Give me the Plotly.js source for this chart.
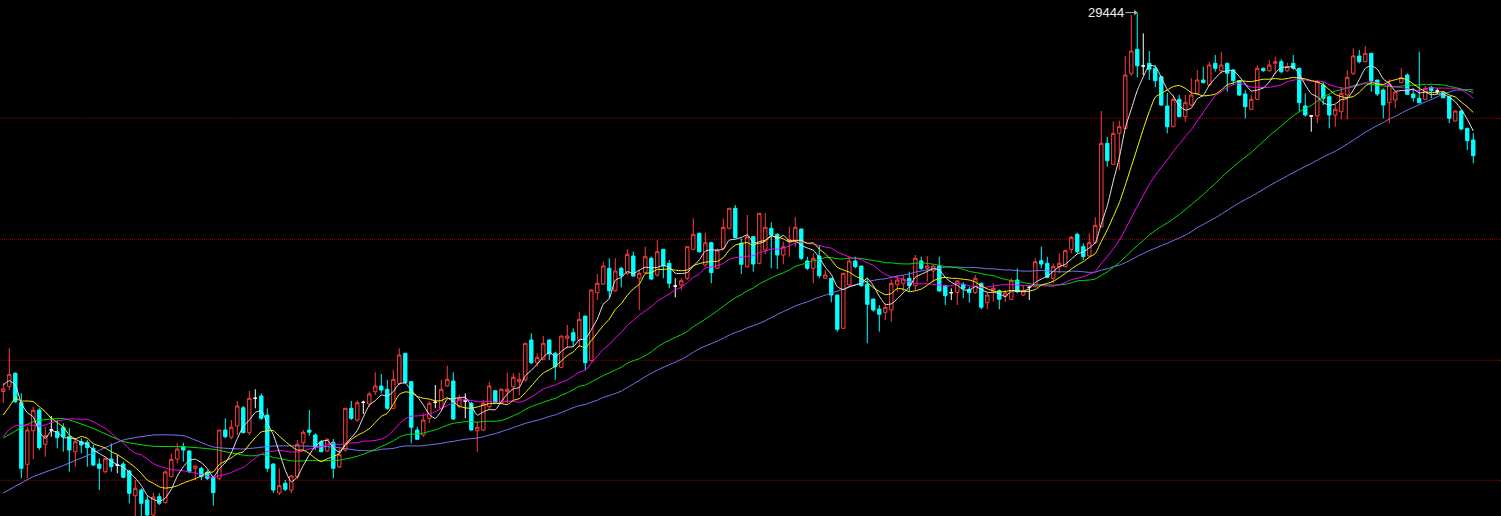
<!DOCTYPE html>
<html>
<head>
<meta charset="utf-8">
<script src="https://cdn.plot.ly/plotly-3.0.1.min.js"></script>
<style>
  html, body { margin: 0; padding: 0; background: #000; overflow: hidden; }
  #chart { width: 1501px; height: 516px; }
</style>
</head>
<body>
<div id="chart"></div>
<script>
// ---- OHLC data (one candle per trading day, index 0..245) ----
const openP = [
25655,25703,25837,25543,24927,25263,25470,25127,25270,25253,
25297,25203,25053,25153,25147,25087,24930,24853,24980,24920,
24930,24860,24613,24670,24570,24420,24603,24543,24803,24980,
25103,25060,24887,24887,24847,24797,24787,25270,25197,25310,
25493,25243,25587,25610,25420,24930,24640,24737,24670,24803,
25143,25270,25220,25153,25060,25147,24903,25070,25487,25370,
25547,25530,25653,25710,25677,25487,25737,26037,25753,25270,
25220,25387,25547,25487,25710,25760,25503,25560,25537,25263,
25270,25503,25663,25537,25653,25703,25753,25770,26170,25943,
25977,26170,26037,25897,26187,26243,26170,26410,25963,26643,
26730,26887,26663,26887,26837,27010,26787,26843,26987,26820,
27077,26937,26710,26720,26787,27077,27237,26920,27143,26887,
27087,27287,27487,27137,26903,27203,26937,27070,27287,27227,
27020,27153,27170,27280,26960,26887,27010,26787,26787,26620,
26287,26720,26960,26910,26727,26580,26480,26447,26470,26727,
26737,26787,26713,26960,26887,26860,26910,26713,26643,26647,
26727,26677,26643,26737,26543,26670,26663,26610,26577,26770,
26620,26697,26703,26963,26937,26787,26903,26903,27077,27227,
27103,27010,27143,27303,28137,27927,28237,28287,28837,29077,
28910,28937,28887,28803,28510,28303,28577,28403,28520,28637,
28770,28720,28937,28863,28937,28870,28763,28630,28477,28577,
28887,28863,28937,28953,28863,28937,28887,28510,28410,28410,
28720,28603,28420,28453,28620,28837,29010,28953,29037,28770,
28670,28543,28570,28743,28820,28630,28587,28577,28697,28660,
28643,28603,28360,28460,28287,28170];

const highP = [
25740,26087,25847,25637,25303,25503,25487,25303,25410,25370,
25337,25287,25187,25187,25170,25120,24987,25003,25137,25020,
24953,24870,24770,24687,24620,24643,24637,24870,25037,25137,
25143,25070,24910,24903,24870,24803,25270,25387,25370,25560,
25510,25663,25677,25637,25487,24937,24887,24770,24820,25170,
25270,25470,25237,25170,25187,25180,25087,25487,25560,25563,
25563,25653,25847,25830,25770,25870,26087,26037,25760,25303,
25437,25560,25720,25770,25913,25847,25620,25637,25553,25353,
25570,25753,25670,25687,25843,25837,25843,26137,26237,26037,
26210,26177,26053,26210,26320,26287,26453,26410,26670,26830,
26953,26987,26987,26903,27077,27053,26870,27103,27003,27170,
27077,26970,26787,26787,27103,27387,27243,27243,27153,27087,
27387,27487,27520,27187,27420,27210,27437,27437,27347,27237,
27153,27303,27397,27280,27003,27037,27120,26870,26787,26620,
26837,27003,27003,26910,26787,26580,26520,26537,26777,26820,
26820,26853,27020,27003,27010,26920,27003,26720,26687,26770,
26747,26703,26820,26743,26653,26737,26677,26670,26787,26887,
26720,26710,26987,27103,27003,26937,27037,27077,27210,27243,
27137,27237,27397,28460,28203,28353,28363,29010,29420,29444,
29237,29060,28920,28810,28643,28620,28620,28620,28787,28870,
28903,28953,29020,29053,28943,28877,28770,28670,28620,28920,
28893,28970,29003,28977,28943,29020,28893,28637,28420,28770,
28753,28620,28520,28703,28870,29087,29070,29110,29037,28770,
28687,28777,28653,28887,28837,28687,29053,28710,28710,28687,
28653,28610,28470,28470,28293,28237];

const lowP = [
25540,25670,25540,24787,24787,24980,25070,25003,25203,25087,
25053,24853,24903,25037,24903,24910,24670,24837,24853,24837,
24787,24537,24410,24410,24400,24400,24520,24537,24797,24937,
24953,24837,24770,24770,24770,24513,24770,25187,25177,25220,
25237,25220,25487,25370,24853,24640,24620,24660,24640,24777,
25063,25213,25070,25047,25053,24787,24887,25053,25370,25353,
25430,25503,25620,25637,25470,25480,25720,25737,25137,25170,
25203,25337,25487,25470,25703,25370,25487,25387,25263,25053,
25263,25470,25537,25530,25537,25570,25620,25753,25930,25903,
25970,25970,25770,25887,26087,26103,26103,25870,25953,26570,
26720,26587,26653,26697,26820,26803,26470,26837,26770,26803,
26787,26687,26597,26670,26770,27070,27043,26903,26737,26880,
27070,27277,27187,26830,26893,26853,26927,27027,26887,26880,
26927,27003,27103,26970,26870,26737,26787,26787,26547,26253,
26280,26703,26887,26703,26137,26453,26253,26370,26353,26653,
26653,26653,26670,26870,26753,26747,26653,26520,26570,26520,
26587,26543,26630,26477,26477,26553,26477,26550,26570,26637,
26610,26570,26697,26887,26787,26737,26837,26897,27037,27037,
26970,27003,27130,27297,27903,27920,27870,28277,28810,28797,
28820,28770,28697,28510,28237,28297,28397,28353,28503,28620,
28737,28710,28853,28837,28653,28720,28610,28387,28470,28570,
28853,28853,28837,28837,28853,28870,28453,28403,28253,28337,
28520,28287,28303,28377,28377,28820,28937,28947,28653,28610,
28387,28337,28487,28737,28620,28553,28537,28570,28587,28630,
28587,28337,28353,28270,28070,27937];

const closeP = [
25680,25827,25553,24887,25270,25467,25093,25213,25270,25193,
25203,25070,25153,25120,25093,24920,24887,24983,24903,24920,
24797,24637,24687,24537,24420,24600,24537,24850,24977,25080,
25070,24853,24910,24803,24787,24643,25270,25203,25297,25510,
25243,25587,25587,25387,24887,24670,24713,24677,24810,25127,
25247,25247,25103,25053,25177,24887,25027,25487,25387,25543,
25547,25630,25710,25670,25487,25777,26020,25743,25297,25177,
25370,25537,25547,25677,25777,25380,25587,25560,25270,25297,
25537,25710,25547,25677,25677,25797,25777,26137,25943,25997,
26137,26030,25903,26210,26210,26163,26377,25943,26670,26737,
26910,26663,26860,26810,27027,26810,26837,27003,26780,27053,
26910,26737,26710,26763,27103,27227,27053,27143,26843,27070,
27297,27487,27193,26927,27203,26930,27437,27297,27220,27020,
27103,27177,27297,26987,26887,26987,26813,26820,26620,26277,
26837,26960,26903,26713,26527,26470,26427,26497,26737,26770,
26780,26713,26987,26887,26910,26910,26660,26613,26643,26760,
26687,26643,26787,26497,26620,26687,26577,26640,26763,26653,
26663,26697,26953,26930,26797,26903,26937,27063,27197,27053,
27003,27143,27317,28137,27963,28237,28303,28820,29060,28913,
28910,28877,28763,28520,28303,28577,28403,28543,28620,28770,
28743,28920,28887,28920,28837,28763,28620,28503,28577,28887,
28863,28920,28953,28853,28903,28887,28543,28420,28410,28753,
28587,28420,28477,28637,28797,29010,28953,29037,28763,28630,
28520,28730,28650,28793,28627,28593,28543,28687,28663,28660,
28593,28387,28460,28280,28163,28013];

const ma5LeadIdx = [0,1,2,3];
const ma5Lead = [25720,25763,25720,25537];
const ma10LeadIdx = [0,1,2,3,4,5,6,7,8];
const ma10Lead = [25420,25503,25587,25560,25560,25553,25503,25453,25387];
const ma20LeadIdx = [0,1,2,3,4,5,6,7,8,9,10,11,12,13,14,15,16,17,18];
const ma20Lead = [25203,25277,25310,25320,25320,25317,25310,25320,25343,25360,25370,25380,25380,25377,25377,25353,25320,25287,25237];
const ma40LeadIdx = [0,5,10,15,20,25,30,35];
const ma40Lead = [25190,25353,25385,25285,25155,25107,25103,25077];
const ma60LeadIdx = [0,5,10,15,20,25,30,35,40,45,50,55];
const ma60Lead = [24640,24803,24915,25040,25170,25220,25213,25100,25080,25110,25110,25100];

// ---- reference lines and label ----
const gridLevels = [28387, 27177, 25967, 24767];
const peakIndex = 189;
const peakValue = 29444;
const peakLabel = "29444";

// ---------------------------------------------------------------
const idx = openP.map((_, i) => i);

function pick(cond) {
  const sel = idx.filter(cond);
  return {
    x: sel,
    open: sel.map(i => openP[i]),
    high: sel.map(i => highP[i]),
    low: sel.map(i => lowP[i]),
    close: sel.map(i => closeP[i])
  };
}

const upD = pick(i => closeP[i] > openP[i]);
const dnD = pick(i => closeP[i] < openP[i]);
const djD = pick(i => closeP[i] === openP[i]);

function candle(d, incLine, incFill, decLine, decFill) {
  return Object.assign({
    type: 'candlestick',
    xaxis: 'x', yaxis: 'y',
    whiskerwidth: 0,
    increasing: { line: { color: incLine, width: 1 }, fillcolor: incFill },
    decreasing: { line: { color: decLine, width: 1 }, fillcolor: decFill },
    hoverinfo: 'skip',
    showlegend: false
  }, d);
}

function movingAverage(n, leadIdx, lead) {
  const xs = leadIdx.slice();
  const ys = lead.slice();
  for (let i = n - 1; i < closeP.length; i++) {
    let s = 0;
    for (let k = i - n + 1; k <= i; k++) s += closeP[k];
    xs.push(i);
    ys.push(s / n);
  }
  return { xs, ys };
}

function maTrace(n, leadIdx, lead, color) {
  const m = movingAverage(n, leadIdx, lead);
  return {
    type: 'scatter', mode: 'lines',
    x: m.xs, y: m.ys,
    line: { color: color, width: 1, shape: 'spline', smoothing: 0.5 },
    hoverinfo: 'skip', showlegend: false
  };
}

const traces = [
  candle(upD, '#ff3c3c', '#000000', '#00ffff', '#00ffff'),
  candle(dnD, '#ff3c3c', '#000000', '#00ffff', '#00ffff'),
  candle(djD, '#ffffff', '#ffffff', '#ffffff', '#ffffff'),
  maTrace(60, ma60LeadIdx, ma60Lead, '#7a7aff'),
  maTrace(40, ma40LeadIdx, ma40Lead, '#00e600'),
  maTrace(20, ma20LeadIdx, ma20Lead, '#ff00ff'),
  maTrace(10, ma10LeadIdx, ma10Lead, '#ffff00'),
  maTrace(5, ma5LeadIdx, ma5Lead, '#e8e8e8')
];

const shapes = gridLevels.map(v => ({
  type: 'line', xref: 'paper', x0: 0, x1: 1, yref: 'y', y0: v, y1: v,
  line: { color: '#a00000', width: 1, dash: '1px,1px' },
  layer: 'below'
}));

const layout = {
  width: 1501, height: 516,
  margin: { l: 0, r: 0, t: 0, b: 0, pad: 0 },
  paper_bgcolor: '#000000',
  plot_bgcolor: '#000000',
  showlegend: false,
  boxgap: 0.2,
  xaxis: {
    range: [-0.55, 249.62],
    showgrid: false, zeroline: false, showticklabels: false, ticks: '',
    showline: false, fixedrange: true,
    rangeslider: { visible: false }
  },
  yaxis: {
    range: [24410, 29570],
    showgrid: false, zeroline: false, showticklabels: false, ticks: '',
    showline: false, fixedrange: true
  },
  shapes: shapes,
  annotations: [{
    x: peakIndex, y: peakValue, xref: 'x', yref: 'y',
    text: peakLabel,
    showarrow: true, arrowhead: 1, arrowsize: 1, arrowwidth: 1,
    arrowcolor: '#b4b4b4', standoff: 0, startstandoff: 0,
    ax: -12, ay: 0, axref: 'pixel', ayref: 'pixel',
    xanchor: 'right', yanchor: 'middle',
    font: { family: 'Liberation Sans, Arial, sans-serif', size: 13, color: '#f0f0f0' },
    borderpad: 0
  }]
};

Plotly.newPlot('chart', traces, layout, { staticPlot: true, displayModeBar: false });
</script>
</body>
</html>
